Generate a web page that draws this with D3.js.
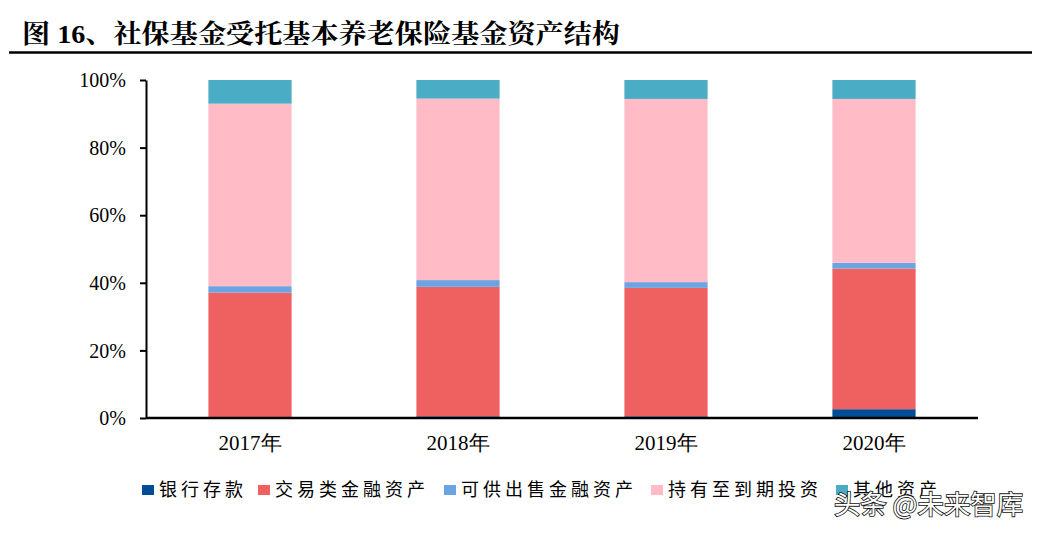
<!DOCTYPE html>
<html><head><meta charset="utf-8">
<script src="https://cdn.jsdelivr.net/npm/d3@7/dist/d3.min.js"></script>
<style>body{margin:0;background:#fff}svg{display:block}</style>
</head><body>
<svg id="c" width="1040" height="534"></svg>
<script>
const categories = ["2017年","2018年","2019年","2020年"];
const seriesNames = ["银行存款","交易类金融资产","可供出售金融资产","持有至到期投资","其他资产"];
const bank  = [0.1, 0.5, 0.5, 2.6];
const trade = [37.0, 38.3, 38.0, 41.6];
const afs   = [1.9, 2.0, 1.7, 1.7];
const htm   = [54.0, 53.7, 54.2, 48.5];
const other = [7.0, 5.5, 5.6, 5.6];
const yTicks = [0,20,40,60,80,100];
const colors = ["#004C97","#EF6060","#6CA4E3","#FFBCC7","#4BACC6"];

const svg = d3.select("#c");
const serif = "'Liberation Serif','Times New Roman',serif";
const cjk = "'Noto Sans CJK SC',sans-serif";

// title
svg.append("text").attr("x",22).attr("y",43)
  .attr("font-family","'Liberation Serif','Noto Serif CJK SC','Noto Sans CJK SC',serif")
  .attr("font-weight","bold").attr("font-size",26).attr("fill","#000")
  .attr("textLength",598).attr("lengthAdjust","spacingAndGlyphs")
  .text("图 16、社保基金受托基本养老保险基金资产结构");
svg.append("line").attr("x1",9).attr("x2",1032).attr("y1",52.5).attr("y2",52.5)
  .attr("stroke","#000").attr("stroke-width",2.5);

const x = d3.scaleBand().domain(categories).range([146,978]).paddingInner(0.6).paddingOuter(0.3);
const y = d3.scaleLinear().domain([0,100]).range([418,80]);

const data = categories.map((c,i)=>({cat:c, s0:bank[i], s1:trade[i], s2:afs[i], s3:htm[i], s4:other[i]}));
const stack = d3.stack().keys(["s0","s1","s2","s3","s4"])(data);

svg.append("g").selectAll("g").data(stack).join("g")
  .attr("fill",(d,i)=>colors[i])
  .selectAll("rect").data(d=>d).join("rect")
  .attr("x",d=>x(d.data.cat)).attr("width",x.bandwidth())
  .attr("y",d=>y(d[1])).attr("height",d=>Math.max(0,y(d[0])-y(d[1])));

// y axis
const ya = svg.append("g").attr("transform","translate(146,0)")
  .call(d3.axisLeft(y).tickValues(yTicks).tickFormat(d=>d+"%").tickSize(6).tickSizeOuter(0));
ya.select(".domain").attr("stroke","#000").attr("stroke-width",2);
ya.selectAll(".tick line").attr("stroke","#000").attr("stroke-width",2);
ya.selectAll(".tick text").attr("font-family",serif).attr("font-size",20).attr("fill","#000").attr("x",-20).attr("dy","0.33em");

// x axis
const xa = svg.append("g").attr("transform","translate(0,418)")
  .call(d3.axisBottom(x).tickSize(0).tickSizeOuter(0));
xa.select(".domain").attr("d","M146,0H978").attr("stroke","#000").attr("stroke-width",2.5);
xa.selectAll(".tick text").attr("font-family",serif).attr("font-size",21).attr("fill","#000").attr("dy","0").attr("y",32);

// legend
const legX = [142, 258, 444, 651, 836];
const lg = svg.append("g");
seriesNames.forEach((n,i)=>{
  lg.append("rect").attr("x",legX[i]).attr("y",485).attr("width",12).attr("height",10).attr("fill",colors[i]);
  lg.append("text").attr("x",legX[i]+17).attr("y",496).attr("font-family",cjk).attr("font-size",18)
    .attr("letter-spacing","4px").attr("fill","#000").text(n);
});

// watermark
svg.append("text").attr("x",834).attr("y",514).attr("font-family","'Noto Sans CJK SC',sans-serif")
  .attr("font-size",26).attr("fill","#fff").attr("stroke","#111").attr("stroke-width",1.6)
  .attr("paint-order","stroke").attr("textLength",189).attr("lengthAdjust","spacingAndGlyphs")
  .text("头条 @未来智库");
</script>
</body></html>
